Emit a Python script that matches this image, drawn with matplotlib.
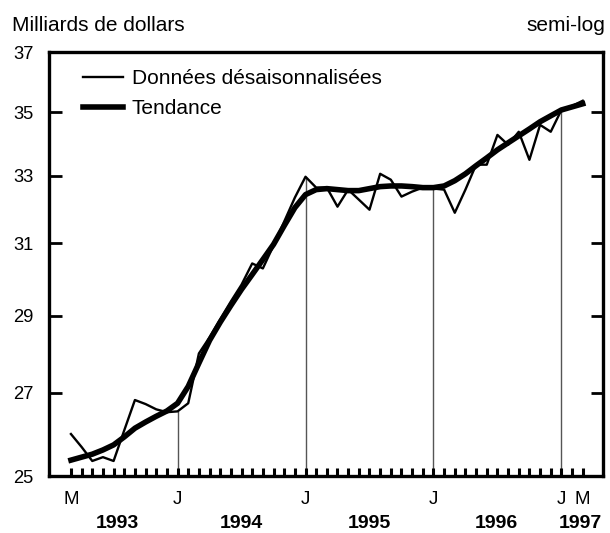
import matplotlib
matplotlib.use('Agg')
import matplotlib.pyplot as plt
import matplotlib.ticker as mticker
import numpy as np
import pandas as pd

plt.rcParams['font.family'] = ['Liberation Sans', 'DejaVu Sans']

# mois de mars 1993 a mars 1997
mois = pd.period_range('1993-03', '1997-03', freq='M')

# donnees desaisonnalisees (milliards de dollars)
donnees = [25.99, 25.68, 25.35, 25.44, 25.35, 26.08, 26.82, 26.72, 26.59, 26.52,
           26.54, 26.74, 28.00, 28.42, 28.90, 29.38, 29.84, 30.43, 30.29, 30.94,
           31.63, 32.34, 32.97, 32.64, 32.64, 32.07, 32.58, 32.28, 31.98, 33.06,
           32.88, 32.37, 32.52, 32.64, 32.61, 32.58, 31.89, 32.58, 33.34, 33.34,
           34.27, 33.96, 34.37, 33.49, 34.59, 34.37, 35.07, 35.20, 35.37]

# tendance
tendance = [25.37, 25.44, 25.51, 25.61, 25.73, 25.92, 26.13, 26.28, 26.42, 26.55,
            26.74, 27.16, 27.75, 28.34, 28.82, 29.27, 29.71, 30.12, 30.54, 30.97,
            31.51, 32.04, 32.43, 32.58, 32.61, 32.58, 32.55, 32.55, 32.61, 32.67,
            32.69, 32.69, 32.67, 32.64, 32.64, 32.69, 32.85, 33.06, 33.31, 33.55,
            33.80, 34.02, 34.24, 34.46, 34.69, 34.88, 35.07, 35.17, 35.27]

etiquettes_mois = ['M', 'J', 'J', 'J', 'J', 'M']
pos_mois = [0, 10, 22, 34, 46, 48]
annees = ['1993', '1994', '1995', '1996', '1997']
pos_annees = [4.4, 16.0, 28.0, 39.9, 47.8]
traits_janvier = [10, 22, 34, 46]
graduations_y = [25, 27, 29, 31, 33, 35, 37]

x = np.arange(len(mois))

fig = plt.figure(figsize=(6.10, 5.33), dpi=100)
ax = fig.add_axes([0.0803, 0.1069, 0.9082, 0.7955])

# traits verticaux en janvier
ax.vlines(traits_janvier, 25, [donnees[i] for i in traits_janvier],
          colors='#555555', linewidth=1.0, zorder=1)

ax.plot(x, donnees, color='black', linewidth=1.7, label='Données désaisonnalisées', zorder=3)
ax.plot(x, tendance, color='black', linewidth=4.0, label='Tendance', zorder=2)

ax.set_yscale('log')
ax.set_ylim(25, 37)
ax.set_xlim(-2.06, 49.9)
ax.yaxis.set_major_locator(mticker.FixedLocator(graduations_y))
ax.yaxis.set_major_formatter(mticker.FixedFormatter([str(v) for v in graduations_y]))
ax.yaxis.set_minor_locator(mticker.NullLocator())
ax.tick_params(axis='y', which='major', direction='in', length=9, width=2,
               left=True, right=True, labelsize=13.2, pad=11)

ax.set_xticks(pos_mois)
ax.set_xticklabels(etiquettes_mois)
ax.set_xticks(x, minor=True)
ax.tick_params(axis='x', which='both', direction='in', length=6, width=2.2,
               labelsize=13.5, pad=10.5)

for sp in ax.spines.values():
    sp.set_linewidth(2.4)

for a, p in zip(annees, pos_annees):
    ax.text(p, -0.113, a, transform=ax.get_xaxis_transform(), ha='center', va='center',
            fontsize=14, fontweight='bold')

fig.text(0.0197, 0.953, 'Milliards de dollars', fontsize=15, ha='left', va='center')
fig.text(0.992, 0.953, 'semi-log', fontsize=15, ha='right', va='center')

ax.legend(loc='upper left', bbox_to_anchor=(0.0614, 0.96), frameon=False,
          fontsize=15, handlelength=1.9, handletextpad=0.45, labelspacing=0.55,
          borderpad=0, borderaxespad=0)

fig.savefig('out.png', dpi=100)
